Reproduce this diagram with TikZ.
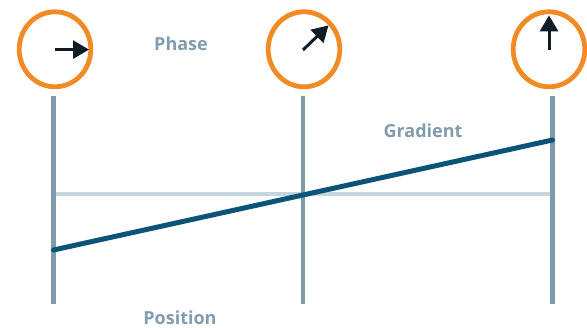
\documentclass[tikz,border=0pt]{standalone}
\usepackage{fontspec}
\setmainfont{Open Sans}
\usetikzlibrary{arrows.meta,shapes.geometric}
\definecolor{rail}{HTML}{7F9AAB}
\definecolor{axisline}{HTML}{C6D6DE}
\definecolor{gradline}{HTML}{0B5477}
\definecolor{ring}{HTML}{F28A26}
\definecolor{pointer}{HTML}{111C24}
\definecolor{labeltext}{HTML}{819CAD}
\tikzset{
  railline/.style={draw=rail, line width=4.6pt},
  ringcircle/.style={ellipse, draw=ring, line width=4.8pt, minimum width=71.6pt, minimum height=75pt, inner sep=0pt},
  phasearrow/.style={draw=pointer, line width=3pt, -{Triangle[length=16pt,width=18pt]}},
  lbl/.style={text=labeltext, font=\fontsize{18}{21}\selectfont\bfseries, inner sep=0pt},
}
\begin{document}
\begin{tikzpicture}[x=1pt,y=-1pt]
  \useasboundingbox (0,0) rectangle (587,328);
  % rails
  \coordinate (r1t) at (53.5,96.5);  \coordinate (r1b) at (53.5,304);
  \coordinate (r2t) at (303,96.5);   \coordinate (r2b) at (303,304);
  \coordinate (r3t) at (552.5,96.5); \coordinate (r3b) at (552.5,304);
  \coordinate (mid1) at (53.5,194); \coordinate (mid3) at (552.5,194);
  \coordinate (g1) at (53.5,250);  \coordinate (g3) at (552.5,140);
  \draw[draw=axisline, line width=4.6pt] (mid1) -- (mid3);
  \draw[railline] (r1t) -- (r1b);
  \draw[railline] (r2t) -- (r2b);
  \draw[railline] (r3t) -- (r3b);
  \draw[draw=gradline, line width=5pt, line cap=round] (g1) -- (g3);
  % phase rings
  \node[ringcircle] (c1) at (55,49.3) {};
  \node[ringcircle] (c2) at (304,49.3) {};
  \node[ringcircle] (c3) at (549,49.3) {};
  \coordinate (a1) at (55,49.6);   \coordinate (b1) at (89,49.6);
  \coordinate (a2) at (303,50);    \coordinate (b2) at (328.5,25.4);
  \coordinate (a3) at (549,49.6);  \coordinate (b3) at (549,15.4);
  \draw[phasearrow] (a1) -- (b1);
  \draw[phasearrow] (a2) -- (b2);
  \draw[phasearrow] (a3) -- (b3);
  % labels
  \node[lbl] (phase) at (181,44) {Phase};
  \node[lbl] (gradient) at (423,131) {Gradient};
  \node[lbl] (position) at (180,318) {Position};
\end{tikzpicture}
\end{document}
